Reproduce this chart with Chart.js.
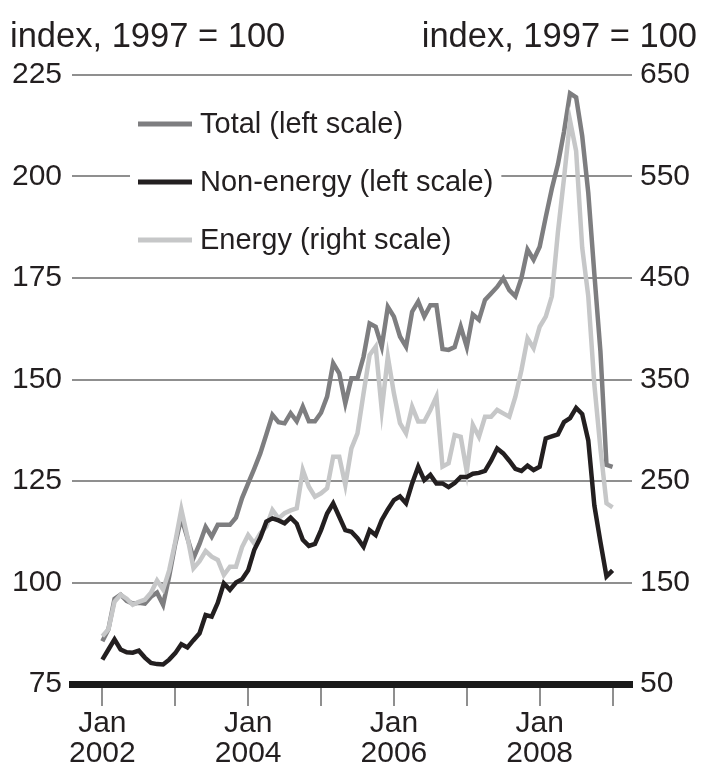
<!DOCTYPE html>
<html>
<head>
<meta charset="utf-8">
<script src="https://cdn.jsdelivr.net/npm/chart.js@4.4.1/dist/chart.umd.min.js"></script>
<style>
  html, body { margin: 0; padding: 0; background: #fff; }
  canvas { display: block; }
</style>
</head>
<body>
<canvas id="chart" width="702" height="778"></canvas>
<script>
// monthly, Jan 2002 .. Jan 2009
const startYear = 2002;
const yearTicks = [0, 12, 24, 36, 48, 60, 72, 84]; // months since Jan 2002

const total = [
  85.5, 88.5, 96, 97, 95.5, 94.8, 95, 94.8, 96.5, 97.5, 94.5, 101.5,
  109.5, 116, 111, 106, 109.5, 113.7, 111.3, 114.2, 114.2, 114.2, 116, 120.8,
  124.4, 128, 131.8, 136.5, 141.3, 139.5, 139.2, 141.7, 139.7, 143.3, 139.7, 139.7,
  141.8, 145.8, 154, 151.5, 144.1, 150.3, 150.3, 155.6, 163.8, 163, 158.1, 167.9,
  165.5, 160.6, 158.1, 166.7, 169.2, 165.5, 168.3, 168.3, 157.5, 157.3, 158, 163,
  158, 166, 164.7, 169.6, 171.2, 172.8, 174.9, 172, 170.5, 175, 182, 179.5,
  182.7, 190, 197, 203, 211, 220.5, 219.5, 210, 196, 176, 157, 129,
  128.5
];

const nonEnergy = [
  81, 83.5, 86, 83.5, 82.8, 82.7, 83.2, 81.5, 80.2, 79.9, 79.8, 81,
  82.6, 84.8, 84, 85.8, 87.5, 92, 91.6, 95, 99.8, 98.2, 100, 100.8,
  103, 108, 111, 115, 115.8, 115.3, 114.6, 116, 114.5, 110.5, 109, 109.5,
  112.9, 117, 119.5, 116.2, 112.9, 112.5, 110.9, 108.8, 112.9, 111.7, 115.4, 118,
  120.3, 121.2, 119.5, 124.4, 128.5, 125.2, 126.5, 124.4, 124.4, 123.5, 124.5, 126,
  126, 126.8, 127, 127.5, 130, 133, 131.8, 130, 128, 127.5, 128.8, 127.7,
  128.5, 135.5, 136, 136.5, 139.5, 140.5, 143, 141.5, 135, 119, 110, 101.5,
  103
];

const energy = [
  97, 104, 131, 138, 134, 128, 131, 133, 140, 152, 143, 162,
  190, 222, 195, 164, 171, 181, 175.4, 172.2, 157.4, 165.6, 165.6, 185,
  196.8, 188.6, 198.5, 205, 221.4, 213.2, 218.2, 221, 223.1, 260.8, 244.4, 234.5,
  237.9, 242.8, 274, 274, 246.1, 282.2, 297, 336.4, 374.1, 382.3, 320, 372.5,
  336.4, 306.9, 297, 323.2, 308.5, 308.5, 320, 333.1, 264.1, 267.4, 295.3, 293.6,
  259.2, 305.2, 293.6, 313.3, 313.3, 320, 316.6, 313.3, 333, 359.4, 390.6, 380.8,
  402, 412, 432, 495, 548, 605, 575, 480, 432, 345, 282, 228,
  224
];

const leftTicks = [75, 100, 125, 150, 175, 200, 225];
const rightTicks = [50, 150, 250, 350, 450, 550, 650];

const textColor = '#231f20';
const gridColor = '#8f8f8f';
const totalColor = '#7e7e80';
const nonEnergyColor = '#231f20';
const energyColor = '#c6c7c8';
const fontFamily = '"Liberation Sans", Arial, Helvetica, sans-serif';

const toPoints = arr => arr.map((v, i) => ({ x: i, y: v }));

const legendItems = [
  { label: 'Total (left scale)', color: totalColor },
  { label: 'Non-energy (left scale)', color: nonEnergyColor },
  { label: 'Energy (right scale)', color: energyColor }
];

const extras = {
  id: 'extras',
  afterDraw(chart) {
    const ctx = chart.ctx;
    ctx.save();
    // unit labels
    ctx.fillStyle = textColor;
    ctx.font = '34.5px ' + fontFamily;
    ctx.textBaseline = 'alphabetic';
    ctx.textAlign = 'left';
    ctx.fillText('index, 1997 = 100', 10, 47);
    ctx.textAlign = 'right';
    ctx.fillText('index, 1997 = 100', 697, 47);

    // legend
    ctx.font = '29px ' + fontFamily;
    ctx.textAlign = 'left';
    ctx.textBaseline = 'middle';
    const rows = [124, 182, 240];
    let maxW = 0;
    legendItems.forEach(it => { maxW = Math.max(maxW, ctx.measureText(it.label).width); });
    ctx.fillStyle = '#fff';
    ctx.fillRect(130, 100, 200 + maxW + 8 - 130, 162);
    legendItems.forEach((it, i) => {
      ctx.strokeStyle = it.color;
      ctx.lineWidth = 5;
      ctx.beginPath();
      ctx.moveTo(138, rows[i]);
      ctx.lineTo(192, rows[i]);
      ctx.stroke();
      ctx.fillStyle = textColor;
      ctx.fillText(it.label, 200, rows[i] + 1);
    });
    ctx.restore();
  }
};

new Chart(document.getElementById('chart').getContext('2d'), {
  type: 'line',
  data: {
    datasets: [
      {
        label: 'Non-energy (left scale)',
        data: toPoints(nonEnergy),
        yAxisID: 'y',
        borderColor: nonEnergyColor,
        borderWidth: 4.5,
        order: 0
      },
      {
        label: 'Energy (right scale)',
        data: toPoints(energy),
        yAxisID: 'y2',
        borderColor: energyColor,
        borderWidth: 4.5,
        order: 1
      },
      {
        label: 'Total (left scale)',
        data: toPoints(total),
        yAxisID: 'y',
        borderColor: totalColor,
        borderWidth: 4.5,
        order: 2
      }
    ]
  },
  options: {
    responsive: false,
    animation: false,
    events: [],
    layout: { padding: { top: 75, left: 0, right: 0, bottom: 0 } },
    elements: {
      point: { radius: 0 },
      line: { tension: 0, borderJoinStyle: 'miter', borderCapStyle: 'butt' }
    },
    plugins: {
      legend: { display: false },
      tooltip: { enabled: false }
    },
    scales: {
      x: {
        type: 'linear',
        min: -5,
        max: 87.2,
        afterBuildTicks(scale) {
          scale.ticks = yearTicks.map(v => ({ value: v }));
        },
        afterFit(scale) { scale.height = 94; },
        grid: {
          drawOnChartArea: false,
          drawTicks: true,
          tickLength: 22,
          color: gridColor,
          lineWidth: 2
        },
        border: { display: true, color: '#1a1a1a', width: 7 },
        ticks: {
          color: textColor,
          padding: 3,
          maxRotation: 0,
          autoSkip: false,
          font: { family: fontFamily, size: 30, lineHeight: 1.0 },
          callback(value) {
            if (value % 24 === 0) return ['Jan', String(startYear + value / 12)];
            return '';
          }
        }
      },
      y: {
        position: 'left',
        min: 75,
        max: 225,
        afterBuildTicks(scale) {
          scale.ticks = leftTicks.map(v => ({ value: v }));
        },
        afterFit(scale) { scale.width = 72; },
        grid: {
          drawTicks: false,
          lineWidth: 2,
          color: ctx => (ctx.tick && ctx.tick.value === 75) ? 'rgba(0,0,0,0)' : gridColor
        },
        border: { display: false },
        ticks: {
          color: textColor,
          padding: 10,
          font: { family: fontFamily, size: 30 }
        }
      },
      y2: {
        position: 'right',
        min: 50,
        max: 650,
        afterBuildTicks(scale) {
          scale.ticks = rightTicks.map(v => ({ value: v }));
        },
        afterFit(scale) { scale.width = 70; },
        grid: { drawOnChartArea: false, drawTicks: false },
        border: { display: false },
        ticks: {
          color: textColor,
          padding: 8,
          font: { family: fontFamily, size: 30 }
        }
      }
    }
  },
  plugins: [extras]
});
</script>
</body>
</html>
